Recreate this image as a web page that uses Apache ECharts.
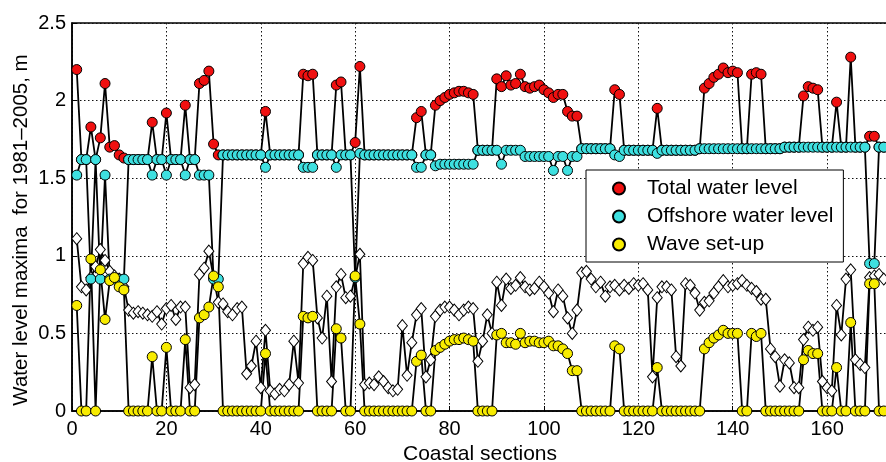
<!DOCTYPE html>
<html>
<head>
<meta charset="utf-8">
<script src="https://cdn.jsdelivr.net/npm/echarts@6/dist/echarts.min.js"></script>
<style>
  html, body { margin: 0; padding: 0; background: #fff; }
  #chart { width: 886px; height: 462px; }
</style>
</head>
<body>
<div id="chart"></div>
<script>
// values per coastal section, starting at section 1
var total = [
  2.20, 1.62, 1.62, 1.83, 1.62, 1.76, 2.11, 1.70, 1.71, 1.65,
  1.63, 1.62, 1.62, 1.62, 1.62, 1.62, 1.86, 1.62, 1.62, 1.92,
  1.62, 1.62, 1.62, 1.97, 1.62, 1.62, 2.11, 2.13, 2.19, 1.72,
  1.65, 1.65, 1.65, 1.65, 1.65, 1.65, 1.65, 1.65, 1.65, 1.65,
  1.93, 1.65, 1.65, 1.65, 1.65, 1.65, 1.65, 1.65, 2.17, 2.16,
  2.17, 1.65, 1.65, 1.65, 1.65, 2.10, 2.12, 1.65, 1.65, 1.73,
  2.22, 1.65, 1.65, 1.65, 1.65, 1.65, 1.65, 1.65, 1.65, 1.65,
  1.65, 1.65, 1.89, 1.93, 1.65, 1.65, 1.97, 2.00, 2.02, 2.04,
  2.05, 2.06, 2.06, 2.05, 2.04, 1.68, 1.68, 1.68, 1.68, 2.14,
  2.09, 2.16, 2.10, 2.11, 2.17, 2.09, 2.08, 2.09, 2.10, 2.07,
  2.05, 2.02, 2.04, 2.04, 1.93, 1.90, 1.90, 1.69, 1.69, 1.69,
  1.69, 1.69, 1.69, 1.69, 2.07, 2.04, 1.68, 1.68, 1.68, 1.68,
  1.68, 1.68, 1.68, 1.95, 1.68, 1.68, 1.68, 1.68, 1.68, 1.68,
  1.68, 1.68, 1.69, 2.08, 2.11, 2.15, 2.17, 2.21, 2.18, 2.19,
  2.18, 1.69, 1.69, 2.17, 2.18, 2.17, 1.69, 1.69, 1.69, 1.69,
  1.70, 1.70, 1.70, 1.70, 2.03, 2.09, 2.08, 2.07, 1.70, 1.70,
  1.70, 1.99, 1.70, 1.70, 2.28, 1.70, 1.70, 1.70, 1.77, 1.77,
  1.70, 1.70
];
var offshore = [
  1.52, 1.62, 1.62, 0.85, 1.62, 0.85, 1.52, 0.85, 0.85, 0.85,
  0.85, 1.62, 1.62, 1.62, 1.62, 1.62, 1.52, 1.62, 1.62, 1.52,
  1.62, 1.62, 1.62, 1.52, 1.62, 1.62, 1.52, 1.52, 1.52, 0.85,
  0.85, 1.65, 1.65, 1.65, 1.65, 1.65, 1.65, 1.65, 1.65, 1.65,
  1.57, 1.65, 1.65, 1.65, 1.65, 1.65, 1.65, 1.65, 1.57, 1.57,
  1.57, 1.65, 1.65, 1.65, 1.65, 1.57, 1.65, 1.65, 1.65, 0.86,
  1.66, 1.65, 1.65, 1.65, 1.65, 1.65, 1.65, 1.65, 1.65, 1.65,
  1.65, 1.65, 1.57, 1.57, 1.65, 1.65, 1.58, 1.59, 1.59, 1.59,
  1.59, 1.59, 1.59, 1.59, 1.59, 1.68, 1.68, 1.68, 1.68, 1.68,
  1.59, 1.68, 1.68, 1.68, 1.68, 1.64, 1.64, 1.64, 1.64, 1.64,
  1.64, 1.55, 1.64, 1.64, 1.55, 1.64, 1.64, 1.69, 1.69, 1.69,
  1.69, 1.69, 1.69, 1.69, 1.65, 1.64, 1.68, 1.68, 1.68, 1.68,
  1.68, 1.68, 1.68, 1.66, 1.68, 1.68, 1.68, 1.68, 1.68, 1.68,
  1.68, 1.68, 1.69, 1.69, 1.69, 1.69, 1.69, 1.69, 1.69, 1.69,
  1.69, 1.69, 1.69, 1.69, 1.69, 1.69, 1.69, 1.69, 1.69, 1.69,
  1.70, 1.70, 1.70, 1.70, 1.70, 1.70, 1.70, 1.70, 1.70, 1.70,
  1.70, 1.70, 1.70, 1.70, 1.70, 1.70, 1.70, 1.70, 0.95, 0.95,
  1.70, 1.70
];
var setup = [
  0.68, 0, 0, 0.98, 0, 0.91, 0.59, 0.84, 0.86, 0.80,
  0.78, 0, 0, 0, 0, 0, 0.35, 0, 0, 0.41,
  0, 0, 0, 0.46, 0, 0, 0.60, 0.62, 0.67, 0.87,
  0.80, 0, 0, 0, 0, 0, 0, 0, 0, 0,
  0.37, 0, 0, 0, 0, 0, 0, 0, 0.61, 0.60,
  0.61, 0, 0, 0, 0, 0.53, 0.47, 0, 0, 0.87,
  0.56, 0, 0, 0, 0, 0, 0, 0, 0, 0,
  0, 0, 0.32, 0.36, 0, 0, 0.39, 0.41, 0.43, 0.45,
  0.46, 0.46, 0.47, 0.46, 0.45, 0, 0, 0, 0, 0.49,
  0.50, 0.44, 0.44, 0.43, 0.50, 0.44, 0.45, 0.45, 0.44, 0.44,
  0.45, 0.42, 0.42, 0.40, 0.37, 0.26, 0.26, 0, 0, 0,
  0, 0, 0, 0, 0.42, 0.40, 0, 0, 0, 0,
  0, 0, 0, 0.28, 0, 0, 0, 0, 0, 0,
  0, 0, 0, 0.40, 0.44, 0.47, 0.49, 0.52, 0.50, 0.50,
  0.50, 0, 0, 0.50, 0.48, 0.50, 0, 0, 0, 0,
  0, 0, 0, 0, 0.33, 0.39, 0.37, 0.37, 0, 0,
  0, 0.28, 0, 0, 0.57, 0, 0, 0, 0.82, 0.82,
  0, 0
];
// white diamonds (no legend entry)
var diamonds = [
  1.11, 0.80, 0.78, 0.86, 0.93, 1.04, 0.97, 0.90, 0.87, 0.85,
  0.80, 0.65, 0.63, 0.64, 0.63, 0.62, 0.61, 0.64, 0.56, 0.66,
  0.68, 0.59, 0.67, 0.67, 0.15, 0.17, 0.88, 0.92, 1.03, 0.86,
  0.70, 0.69, 0.64, 0.62, 0.66, 0.67, 0.24, 0.29, 0.45, 0.15,
  0.52, 0.13, 0.11, 0.14, 0.13, 0.17, 0.45, 0.18, 0.95, 0.99,
  0.97, 0.60, 0.47, 0.74, 0.19, 0.80, 0.88, 0.73, 0.74, 0.86,
  1.01, 0.17, 0.18, 0.17, 0.22, 0.19, 0.15, 0.13, 0.14, 0.55,
  0.23, 0.44, 0.62, 0.66, 0.22, 0.33, 0.61, 0.65, 0.67, 0.67,
  0.65, 0.62, 0.65, 0.67, 0.66, 0.32, 0.45, 0.62, 0.50, 0.83,
  0.68, 0.85, 0.79, 0.81, 0.86, 0.80, 0.78, 0.79, 0.83, 0.80,
  0.76, 0.64, 0.78, 0.74, 0.60, 0.50, 0.65, 0.89, 0.90, 0.85,
  0.80, 0.83, 0.74, 0.80, 0.81, 0.78, 0.81, 0.79, 0.82, 0.81,
  0.82, 0.78, 0.22, 0.73, 0.80, 0.80, 0.78, 0.35, 0.29, 0.82,
  0.81, 0.76, 0.65, 0.70, 0.71, 0.76, 0.80, 0.84, 0.80, 0.81,
  0.82, 0.84, 0.81, 0.79, 0.77, 0.72, 0.72, 0.40, 0.35, 0.16,
  0.33, 0.31, 0.15, 0.15, 0.46, 0.54, 0.52, 0.54, 0.19, 0.15,
  0.13, 0.68, 0.49, 0.85, 0.91, 0.33, 0.30, 0.28, 0.86, 0.87,
  0.88, 0.85
];

// section numbers 1..N
var sections = [];
for (var i = 1; i <= total.length; i++) sections.push(i);

function pairs(vals) {
  return vals.map(function (v, i) { return [sections[i], v]; });
}

var font = 'Liberation Sans, Arial, sans-serif';

function dotSeries(name, vals, fill) {
  return {
    name: name,
    type: 'line',
    data: pairs(vals),
    symbol: 'circle',
    symbolSize: 10,
    showSymbol: true,
    lineStyle: {color: '#000', width: 1.8},
    itemStyle: {color: fill, borderColor: '#000', borderWidth: 1},
    emphasis: {disabled: true}
  };
}

var option = {
  animation: false,
  backgroundColor: '#fff',
  grid: {
    left: 72, right: -2, top: 23, bottom: 51,
    outerBoundsMode: 'none',
    show: true, borderColor: '#000', borderWidth: 1.5, backgroundColor: 'transparent'
  },
  graphic: [{
    type: 'text',
    x: 21, y: 230,
    rotation: Math.PI / 2,
    style: {
      text: 'Water level maxima  for 1981\u20132005, m',
      fontFamily: font, fontSize: 20.5, fill: '#000',
      align: 'center', verticalAlign: 'middle'
    }
  }],
  legend: {
    data: ['Total water level', 'Offshore water level', 'Wave set-up'],
    orient: 'vertical',
    left: 586, top: 170,
    icon: 'circle',
    itemWidth: 46, itemHeight: 12, itemGap: 7,
    padding: [8, 10, 7, 26],
    backgroundColor: '#fff',
    borderColor: '#000', borderWidth: 1, borderRadius: 0,
    textStyle: {fontFamily: font, fontSize: 21, color: '#000'}
  },
  xAxis: {
    type: 'value',
    min: 0, max: 172.9, interval: 20,
    name: 'Coastal sections',
    nameLocation: 'middle', nameGap: 30,
    nameTextStyle: {fontFamily: font, fontSize: 21, color: '#000'},
    axisLine: {lineStyle: {color: '#000', width: 1.5}},
    axisTick: {inside: true, length: 5, lineStyle: {color: '#000'}},
    axisLabel: {
      fontFamily: font, fontSize: 20, color: '#000', margin: 8,
      showMaxLabel: false,
      formatter: function (v) { return v % 20 === 0 ? String(v) : ''; }
    },
    splitLine: {show: true, lineStyle: {color: '#111', type: [1.5, 2.5], width: 1}}
  },
  yAxis: {
    type: 'value',
    min: 0, max: 2.5, interval: 0.5,
    axisLine: {lineStyle: {color: '#000', width: 1.5}},
    axisTick: {inside: true, length: 5, lineStyle: {color: '#000'}},
    axisLabel: {fontFamily: font, fontSize: 20, color: '#000', margin: 6},
    splitLine: {show: true, lineStyle: {color: '#111', type: [1.5, 2.5], width: 1}}
  },
  series: [
    {
      name: 'other',
      type: 'line',
      data: pairs(diamonds),
      symbol: 'diamond',
      symbolSize: [10, 12],
      lineStyle: {color: '#000', width: 1.8},
      itemStyle: {color: '#fff', borderColor: '#000', borderWidth: 1},
      emphasis: {disabled: true}
    },
    dotSeries('Total water level', total, '#f01010'),
    dotSeries('Offshore water level', offshore, '#3ee0e0'),
    dotSeries('Wave set-up', setup, '#f8ec00')
  ]
};

var chart = echarts.init(document.getElementById('chart'));
chart.setOption(option);
</script>
</body>
</html>
